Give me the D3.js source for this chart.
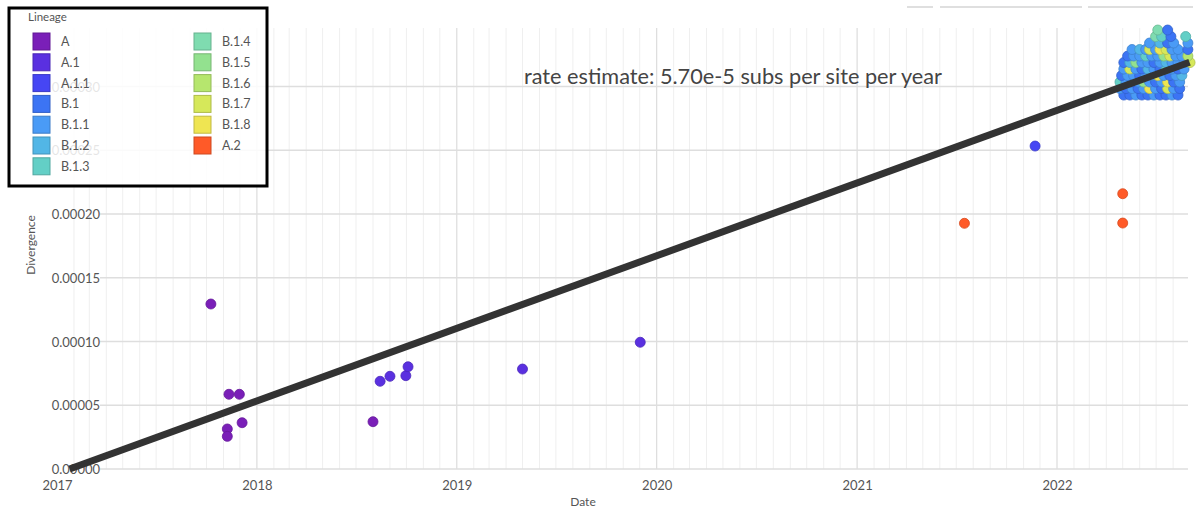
<!DOCTYPE html>
<html>
<head>
<meta charset="utf-8">
<script src="https://cdn.jsdelivr.net/npm/d3@7"></script>
<style>
  html, body { margin: 0; padding: 0; background: #fff; }
  svg { display: block; font-family: Lato, "Open Sans", sans-serif; }
</style>
</head>
<body>
<svg id="chart" width="1201" height="510"></svg>
<script>
// ---------- data ----------
const lineages = ["A","A.1","A.1.1","B.1","B.1.1","B.1.2","B.1.3","B.1.4","B.1.5","B.1.6","B.1.7","B.1.8","A.2"];
const lineageColors = ["#7a1fb8","#5a30e0","#4646f4","#3c74f4","#4a9bf6","#52b6e6","#63cfc6","#7fdcb0","#93e18f","#b6e66e","#d6e85a","#efe552","#ff5a28"];

const xTickLabels = ["2017","2018","2019","2020","2021","2022"];
const yTickLabels = ["0.00000","0.00005","0.00010","0.00015","0.00020","0.00025","0.00030"];
const yTickValues = [0, 0.00005, 0.00010, 0.00015, 0.00020, 0.00025, 0.00030];

const rateText = "rate estimate: 5.70e-5 subs per site per year";
const regressionDates = ["2017-01-24", "2022-08-31"];
const regressionDivergence = [0, 0.000319];

// [lineage, date, divergence]
const earlySamples = [
  ["A","2017-10-09",0.0001294],
  ["A","2017-11-11",0.0000586],
  ["A","2017-11-30",0.0000586],
  ["A","2017-12-05",0.0000363],
  ["A","2017-11-08",0.0000314],
  ["A","2017-11-08",0.0000256],
  ["A","2018-08-01",0.0000371],
  ["A.1","2018-08-14",0.0000688],
  ["A.1","2018-09-01",0.0000727],
  ["A.1","2018-09-30",0.0000732],
  ["A.1","2018-10-04",0.0000802],
  ["A.1","2019-05-01",0.0000784],
  ["A.1","2019-12-02",0.0000994],
  ["A.1.1","2021-11-22",0.0002533],
  ["A.2","2021-07-16",0.0001927],
  ["A.2","2022-05-01",0.0002159],
  ["A.2","2022-05-01",0.0001929]
];

const outbreakSamples = [
  ["B.1","2022-05-03",0.0002933],["B.1","2022-05-14",0.0002933],["B.1.1","2022-05-25",0.0002933],["B.1","2022-06-05",0.0002933],
  ["B.1","2022-06-16",0.0002933],["B.1.1","2022-06-27",0.0002933],["B.1","2022-07-08",0.0002933],["B.1","2022-07-19",0.0002933],
  ["B.1.1","2022-07-30",0.0002933],["B.1","2022-08-10",0.0002933],

  ["B.1.1","2022-04-26",0.0002984],["B.1","2022-05-07",0.0002984],["B.1.1","2022-05-18",0.0002984],["B.1","2022-05-29",0.0002984],
  ["B.1.1","2022-06-08",0.0002984],["B.1.8","2022-06-19",0.0002984],["B.1.1","2022-06-30",0.0002984],["B.1","2022-07-11",0.0002984],
  ["B.1.7","2022-07-22",0.0002984],["B.1.1","2022-08-02",0.0002984],["B.1","2022-08-13",0.0002984],

  ["B.1.3","2022-04-26",0.0003035],["B.1.1","2022-05-07",0.0003035],["B.1","2022-05-18",0.0003035],["B.1.1","2022-05-29",0.0003035],
  ["B.1.5","2022-06-08",0.0003035],["B.1.1","2022-06-19",0.0003035],["B.1","2022-06-30",0.0003035],["B.1.1","2022-07-11",0.0003035],
  ["B.1.8","2022-07-22",0.0003035],["B.1","2022-08-02",0.0003035],["B.1.1","2022-08-13",0.0003035],

  ["B.1","2022-04-29",0.0003086],["B.1.1","2022-05-10",0.0003086],["B.1.1","2022-05-21",0.0003086],["B.1","2022-06-01",0.0003086],
  ["B.1.1","2022-06-12",0.0003086],["B.1.1","2022-06-23",0.0003086],["B.1.8","2022-07-04",0.0003086],["B.1.1","2022-07-15",0.0003086],
  ["B.1","2022-07-26",0.0003086],["B.1.1","2022-08-06",0.0003086],["B.1.2","2022-08-17",0.0003086],

  ["B.1.1","2022-05-03",0.0003137],["B.1.7","2022-05-14",0.0003137],["B.1.1","2022-05-25",0.0003137],["B.1","2022-06-05",0.0003137],
  ["B.1.2","2022-06-16",0.0003137],["B.1.1","2022-06-27",0.0003137],["B.1","2022-07-08",0.0003137],["B.1.3","2022-07-19",0.0003137],
  ["B.1.1","2022-07-30",0.0003137],["B.1","2022-08-10",0.0003137],["B.1.1","2022-08-21",0.0003137],

  ["B.1","2022-05-03",0.0003188],["B.1.2","2022-05-14",0.0003188],["B.1.5","2022-05-25",0.0003188],["B.1.1","2022-06-05",0.0003188],
  ["B.1.1","2022-06-16",0.0003188],["B.1","2022-06-27",0.0003188],["B.1.1","2022-07-08",0.0003188],["B.1.2","2022-07-19",0.0003188],
  ["B.1.1","2022-07-30",0.0003188],["B.1.1","2022-08-10",0.0003188],["B.1.1","2022-08-21",0.0003188],["B.1.7","2022-09-01",0.0003188],

  ["B.1","2022-05-10",0.0003239],["B.1.1","2022-05-21",0.0003239],["B.1.1","2022-06-01",0.0003239],["B.1.3","2022-06-12",0.0003239],
  ["B.1.1","2022-06-23",0.0003239],["B.1.1","2022-07-04",0.0003239],["B.1.5","2022-07-15",0.0003239],["B.1.7","2022-07-26",0.0003239],
  ["B.1.1","2022-08-06",0.0003239],["B.1.1","2022-08-17",0.0003239],["B.1.6","2022-08-28",0.0003239],

  ["B.1.1","2022-05-18",0.0003290],["B.1.2","2022-06-01",0.0003290],["B.1.1","2022-06-12",0.0003290],["B.1.7","2022-06-19",0.0003290],
  ["B.1.1","2022-06-30",0.0003290],["B.1.8","2022-07-08",0.0003290],["B.1.7","2022-07-19",0.0003290],["B.1.1","2022-07-30",0.0003290],
  ["B.1.1","2022-08-10",0.0003290],["B.1","2022-08-28",0.0003290],

  ["B.1.1","2022-06-19",0.0003341],["B.1.2","2022-07-08",0.0003341],["B.1","2022-07-22",0.0003341],["B.1.1","2022-08-02",0.0003341],
  ["B.1.1","2022-08-28",0.0003341],

  ["B.1.4","2022-06-30",0.0003392],["B.1.3","2022-07-11",0.0003392],["B.1","2022-07-28",0.0003392],["B.1.3","2022-08-24",0.0003392],

  ["B.1.4","2022-07-04",0.0003443],["B.1","2022-07-22",0.0003443]
];

// ---------- setup ----------
const svg = d3.select("#chart");
const parse = d3.timeParse("%Y-%m-%d");

const x = d3.scaleTime()
  .domain([parse("2017-01-01"), parse("2022-01-01")])
  .range([57, 1057]);
const y = d3.scaleLinear()
  .domain([0, 0.00005])
  .range([469, 405.25]);

const plotLeft = 64, plotRight = 1190, plotTop = 28, plotBottom = 469;
const color = d3.scaleOrdinal().domain(lineages).range(lineageColors);

// top UI remnants
const topBars = [[907, 933], [940, 1082], [1088, 1193]];
svg.append("g").selectAll("line").data(topBars).join("line")
  .attr("x1", d => d[0]).attr("x2", d => d[1]).attr("y1", 7).attr("y2", 7)
  .attr("stroke", "#d4d4d4").attr("stroke-width", 1.5);

// ---------- grid ----------
const grid = svg.append("g");
const monthSet = d3.timeMonth.range(parse("2017-01-01"), parse("2022-10-01"))
  .filter(d => x(d) >= plotLeft && x(d) <= plotRight);
grid.selectAll("line.minor").data(monthSet.filter(d => d.getMonth() !== 0)).join("line")
  .attr("class", "minor")
  .attr("x1", d => x(d)).attr("x2", d => x(d))
  .attr("y1", plotTop).attr("y2", plotBottom)
  .attr("stroke", "#efefef").attr("stroke-width", 1);
grid.selectAll("line.major").data(monthSet.filter(d => d.getMonth() === 0)).join("line")
  .attr("class", "major")
  .attr("x1", d => x(d)).attr("x2", d => x(d))
  .attr("y1", plotTop).attr("y2", plotBottom)
  .attr("stroke", "#dcdcdc").attr("stroke-width", 1.2);
grid.selectAll("line.h").data(yTickValues).join("line")
  .attr("class", "h")
  .attr("x1", 100).attr("x2", 1188)
  .attr("y1", d => y(d)).attr("y2", d => y(d))
  .attr("stroke", "#dedede").attr("stroke-width", 1.6);

// ---------- axes ----------
const xAxis = d3.axisBottom(x)
  .tickValues(xTickLabels.map(t => parse(t + "-01-01")))
  .tickFormat((d, i) => xTickLabels[i])
  .tickSize(0).tickPadding(12);
const gx = svg.append("g").attr("transform", `translate(0,${plotBottom})`).call(xAxis);
gx.select(".domain").remove();
gx.selectAll("text").attr("font-size", 13).attr("fill", "#555").attr("font-family", "Lato, sans-serif");

const yAxis = d3.axisLeft(y)
  .tickValues(yTickValues)
  .tickFormat((d, i) => yTickLabels[i])
  .tickSize(0).tickPadding(0);
const gy = svg.append("g").attr("transform", "translate(100,0)").call(yAxis);
gy.select(".domain").remove();
gy.selectAll("text").attr("font-size", 13).attr("fill", "#555").attr("font-family", "Lato, sans-serif")
  .attr("dy", "0.35em");

svg.append("text").attr("x", 583).attr("y", 506).attr("text-anchor", "middle")
  .attr("font-size", 12).attr("fill", "#555").text("Date");
svg.append("text").attr("transform", "translate(35,245) rotate(-90)").attr("text-anchor", "middle")
  .attr("font-size", 12).attr("fill", "#555").text("Divergence");

// rate estimate
svg.append("text").attr("x", 733).attr("y", 84).attr("text-anchor", "middle")
  .attr("font-size", 21.7).attr("fill", "#444").text(rateText);

// ---------- points ----------
const allSamples = earlySamples.concat(outbreakSamples);
svg.append("g").selectAll("circle").data(allSamples).join("circle")
  .attr("cx", d => x(parse(d[1])))
  .attr("cy", d => y(d[2]))
  .attr("r", 5)
  .attr("fill", d => color(d[0]))
  .attr("stroke", d => d3.color(color(d[0])).darker(0.5))
  .attr("stroke-width", 0.8);

// ---------- regression line ----------
svg.append("line")
  .attr("x1", x(parse(regressionDates[0]))).attr("y1", y(regressionDivergence[0]))
  .attr("x2", x(parse(regressionDates[1]))).attr("y2", y(regressionDivergence[1]))
  .attr("stroke", "#333").attr("stroke-width", 7);

// ---------- legend ----------
const lg = svg.append("g");
lg.append("rect").attr("x", 9).attr("y", 8).attr("width", 258).attr("height", 178)
  .attr("fill", "#fff").attr("fill-opacity", 0.85)
  .attr("stroke", "#000").attr("stroke-width", 3);
lg.append("text").attr("x", 28).attr("y", 21).attr("font-size", 11.5).attr("fill", "#555").text("Lineage");
const items = lg.selectAll("g.item").data(lineages).join("g").attr("class", "item")
  .attr("transform", (d, i) => {
    const col = i < 7 ? 0 : 1;
    const row = i < 7 ? i : i - 7;
    return `translate(${col ? 194 : 33},${33 + row * 20.8})`;
  });
items.append("rect").attr("width", 17).attr("height", 17)
  .attr("fill", d => color(d))
  .attr("stroke", d => d3.color(color(d)).darker(0.6)).attr("stroke-width", 1);
items.append("text").attr("x", 28).attr("y", 13).attr("font-size", 12.5).attr("fill", "#555").text(d => d);
</script>
</body>
</html>
